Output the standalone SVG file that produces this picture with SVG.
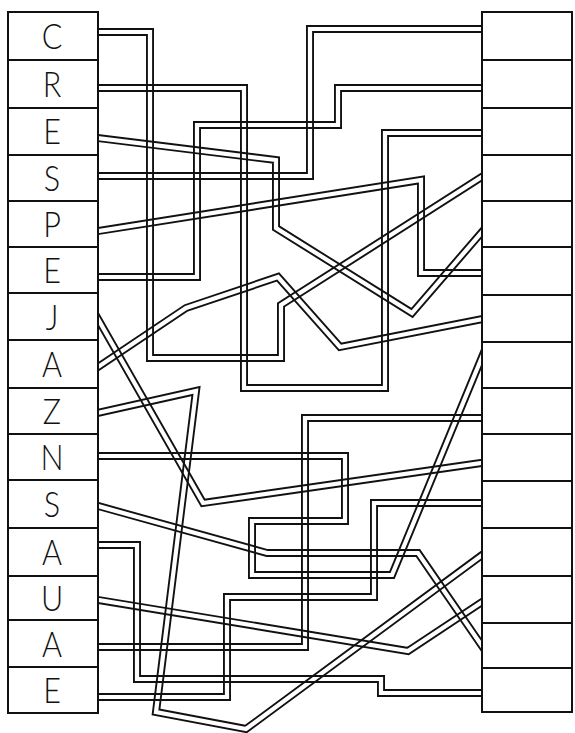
<svg xmlns="http://www.w3.org/2000/svg" xmlns:xlink="http://www.w3.org/1999/xlink" width="575" height="733" viewBox="0 0 575 733">
<style>
.box{fill:none;stroke:#111;stroke-width:2}
.lt{font-family:Lato,"Liberation Sans",sans-serif;font-weight:300;font-size:36px;fill:#111;text-anchor:middle}
.tube{fill:none;stroke:#111;stroke-width:8;stroke-linejoin:miter;stroke-miterlimit:12}
.core{fill:none;stroke:#000;stroke-width:4.2;stroke-linejoin:miter;stroke-miterlimit:12}
</style>
<defs>
<clipPath id="mid"><rect x="98" y="0" width="384" height="733"/></clipPath>
<path id="t1" d="M92,32 H150 V358 H281 V305 L488,173"/>
<path id="t2" d="M92,88 H244 V388 H385 V133 H488"/>
<path id="t3" d="M92,137.3 L276,160 V228 L412,313 L488,225"/>
<path id="t4" d="M92,176 H310 V29 H488"/>
<path id="t5" d="M92,232 L421,180 V273 H488"/>
<path id="t6" d="M92,277 H197 V125 H338 V88 H488"/>
<path id="t7" d="M92,308.5 L203,503 L488,462"/>
<path id="t8" d="M92,371 L186,308 L278,277 L340,347 L488,318"/>
<path id="t9" d="M92,414.3 L196,391 L156,712 L246,729 L488,550.6"/>
<path id="t10" d="M92,456 H345 V521 H252 V575 H392 L488,342.5"/>
<path id="t11" d="M92,504.3 L267,553 H418 L488,654.7"/>
<path id="t12" d="M92,545 H137 V679 H381 V693 H488"/>
<path id="t13" d="M92,599 L408,651 L488,598"/>
<path id="t14" d="M92,647 H305 V418 H488"/>
<path id="t15" d="M92,697 H227 V597 H374 V503 H488"/>
<mask id="m1" maskUnits="userSpaceOnUse" x="0" y="0" width="575" height="733"><rect width="575" height="733" fill="#fff"/><use xlink:href="#t1" class="core"/></mask>
<mask id="m2" maskUnits="userSpaceOnUse" x="0" y="0" width="575" height="733"><rect width="575" height="733" fill="#fff"/><use xlink:href="#t2" class="core"/></mask>
<mask id="m3" maskUnits="userSpaceOnUse" x="0" y="0" width="575" height="733"><rect width="575" height="733" fill="#fff"/><use xlink:href="#t3" class="core"/></mask>
<mask id="m4" maskUnits="userSpaceOnUse" x="0" y="0" width="575" height="733"><rect width="575" height="733" fill="#fff"/><use xlink:href="#t4" class="core"/></mask>
<mask id="m5" maskUnits="userSpaceOnUse" x="0" y="0" width="575" height="733"><rect width="575" height="733" fill="#fff"/><use xlink:href="#t5" class="core"/></mask>
<mask id="m6" maskUnits="userSpaceOnUse" x="0" y="0" width="575" height="733"><rect width="575" height="733" fill="#fff"/><use xlink:href="#t6" class="core"/></mask>
<mask id="m7" maskUnits="userSpaceOnUse" x="0" y="0" width="575" height="733"><rect width="575" height="733" fill="#fff"/><use xlink:href="#t7" class="core"/></mask>
<mask id="m8" maskUnits="userSpaceOnUse" x="0" y="0" width="575" height="733"><rect width="575" height="733" fill="#fff"/><use xlink:href="#t8" class="core"/></mask>
<mask id="m9" maskUnits="userSpaceOnUse" x="0" y="0" width="575" height="733"><rect width="575" height="733" fill="#fff"/><use xlink:href="#t9" class="core"/></mask>
<mask id="m10" maskUnits="userSpaceOnUse" x="0" y="0" width="575" height="733"><rect width="575" height="733" fill="#fff"/><use xlink:href="#t10" class="core"/></mask>
<mask id="m11" maskUnits="userSpaceOnUse" x="0" y="0" width="575" height="733"><rect width="575" height="733" fill="#fff"/><use xlink:href="#t11" class="core"/></mask>
<mask id="m12" maskUnits="userSpaceOnUse" x="0" y="0" width="575" height="733"><rect width="575" height="733" fill="#fff"/><use xlink:href="#t12" class="core"/></mask>
<mask id="m13" maskUnits="userSpaceOnUse" x="0" y="0" width="575" height="733"><rect width="575" height="733" fill="#fff"/><use xlink:href="#t13" class="core"/></mask>
<mask id="m14" maskUnits="userSpaceOnUse" x="0" y="0" width="575" height="733"><rect width="575" height="733" fill="#fff"/><use xlink:href="#t14" class="core"/></mask>
<mask id="m15" maskUnits="userSpaceOnUse" x="0" y="0" width="575" height="733"><rect width="575" height="733" fill="#fff"/><use xlink:href="#t15" class="core"/></mask>
</defs>
<rect width="575" height="733" fill="#fff"/>
<g id="connectors" clip-path="url(#mid)">
<use xlink:href="#t1" class="tube" mask="url(#m1)"/>
<use xlink:href="#t2" class="tube" mask="url(#m2)"/>
<use xlink:href="#t3" class="tube" mask="url(#m3)"/>
<use xlink:href="#t4" class="tube" mask="url(#m4)"/>
<use xlink:href="#t5" class="tube" mask="url(#m5)"/>
<use xlink:href="#t6" class="tube" mask="url(#m6)"/>
<use xlink:href="#t7" class="tube" mask="url(#m7)"/>
<use xlink:href="#t8" class="tube" mask="url(#m8)"/>
<use xlink:href="#t9" class="tube" mask="url(#m9)"/>
<use xlink:href="#t10" class="tube" mask="url(#m10)"/>
<use xlink:href="#t11" class="tube" mask="url(#m11)"/>
<use xlink:href="#t12" class="tube" mask="url(#m12)"/>
<use xlink:href="#t13" class="tube" mask="url(#m13)"/>
<use xlink:href="#t14" class="tube" mask="url(#m14)"/>
<use xlink:href="#t15" class="tube" mask="url(#m15)"/>
</g>
<g id="left-column">
<g id="L1"><rect class="box" x="8" y="12" width="90" height="48"/><text class="lt" transform="translate(52,49) scale(0.85,1)">C</text></g>
<g id="L2"><rect class="box" x="8" y="60" width="90" height="48"/><text class="lt" transform="translate(52,97) scale(0.85,1)">R</text></g>
<g id="L3"><rect class="box" x="8" y="108" width="90" height="47"/><text class="lt" transform="translate(52,144) scale(0.85,1)">E</text></g>
<g id="L4"><rect class="box" x="8" y="155" width="90" height="46"/><text class="lt" transform="translate(52,191) scale(0.85,1)">S</text></g>
<g id="L5"><rect class="box" x="8" y="201" width="90" height="46"/><text class="lt" transform="translate(52,237) scale(0.85,1)">P</text></g>
<g id="L6"><rect class="box" x="8" y="247" width="90" height="46"/><text class="lt" transform="translate(52,283) scale(0.85,1)">E</text></g>
<g id="L7"><rect class="box" x="8" y="293" width="90" height="47"/><text class="lt" transform="translate(52,330) scale(0.85,1)">J</text></g>
<g id="L8"><rect class="box" x="8" y="340" width="90" height="48"/><text class="lt" transform="translate(52,377) scale(0.85,1)">A</text></g>
<g id="L9"><rect class="box" x="8" y="388" width="90" height="46"/><text class="lt" transform="translate(52,424) scale(0.85,1)">Z</text></g>
<g id="L10"><rect class="box" x="8" y="434" width="90" height="46"/><text class="lt" transform="translate(52,470) scale(0.85,1)">N</text></g>
<g id="L11"><rect class="box" x="8" y="480" width="90" height="48"/><text class="lt" transform="translate(52,517) scale(0.85,1)">S</text></g>
<g id="L12"><rect class="box" x="8" y="528" width="90" height="48"/><text class="lt" transform="translate(52,565) scale(0.85,1)">A</text></g>
<g id="L13"><rect class="box" x="8" y="576" width="90" height="44"/><text class="lt" transform="translate(52,611) scale(0.85,1)">U</text></g>
<g id="L14"><rect class="box" x="8" y="620" width="90" height="47"/><text class="lt" transform="translate(52,657) scale(0.85,1)">A</text></g>
<g id="L15"><rect class="box" x="8" y="667" width="90" height="46"/><text class="lt" transform="translate(52,703) scale(0.85,1)">E</text></g>
</g>
<g id="right-column">
<g id="R1"><rect class="box" x="482" y="12" width="90" height="48"/></g>
<g id="R2"><rect class="box" x="482" y="60" width="90" height="48"/></g>
<g id="R3"><rect class="box" x="482" y="108" width="90" height="47"/></g>
<g id="R4"><rect class="box" x="482" y="155" width="90" height="46"/></g>
<g id="R5"><rect class="box" x="482" y="201" width="90" height="46"/></g>
<g id="R6"><rect class="box" x="482" y="247" width="90" height="48"/></g>
<g id="R7"><rect class="box" x="482" y="295" width="90" height="47"/></g>
<g id="R8"><rect class="box" x="482" y="342" width="90" height="46"/></g>
<g id="R9"><rect class="box" x="482" y="388" width="90" height="46"/></g>
<g id="R10"><rect class="box" x="482" y="434" width="90" height="47"/></g>
<g id="R11"><rect class="box" x="482" y="481" width="90" height="47"/></g>
<g id="R12"><rect class="box" x="482" y="528" width="90" height="48"/></g>
<g id="R13"><rect class="box" x="482" y="576" width="90" height="47"/></g>
<g id="R14"><rect class="box" x="482" y="623" width="90" height="45"/></g>
<g id="R15"><rect class="box" x="482" y="668" width="90" height="44"/></g>
</g>
</svg>
